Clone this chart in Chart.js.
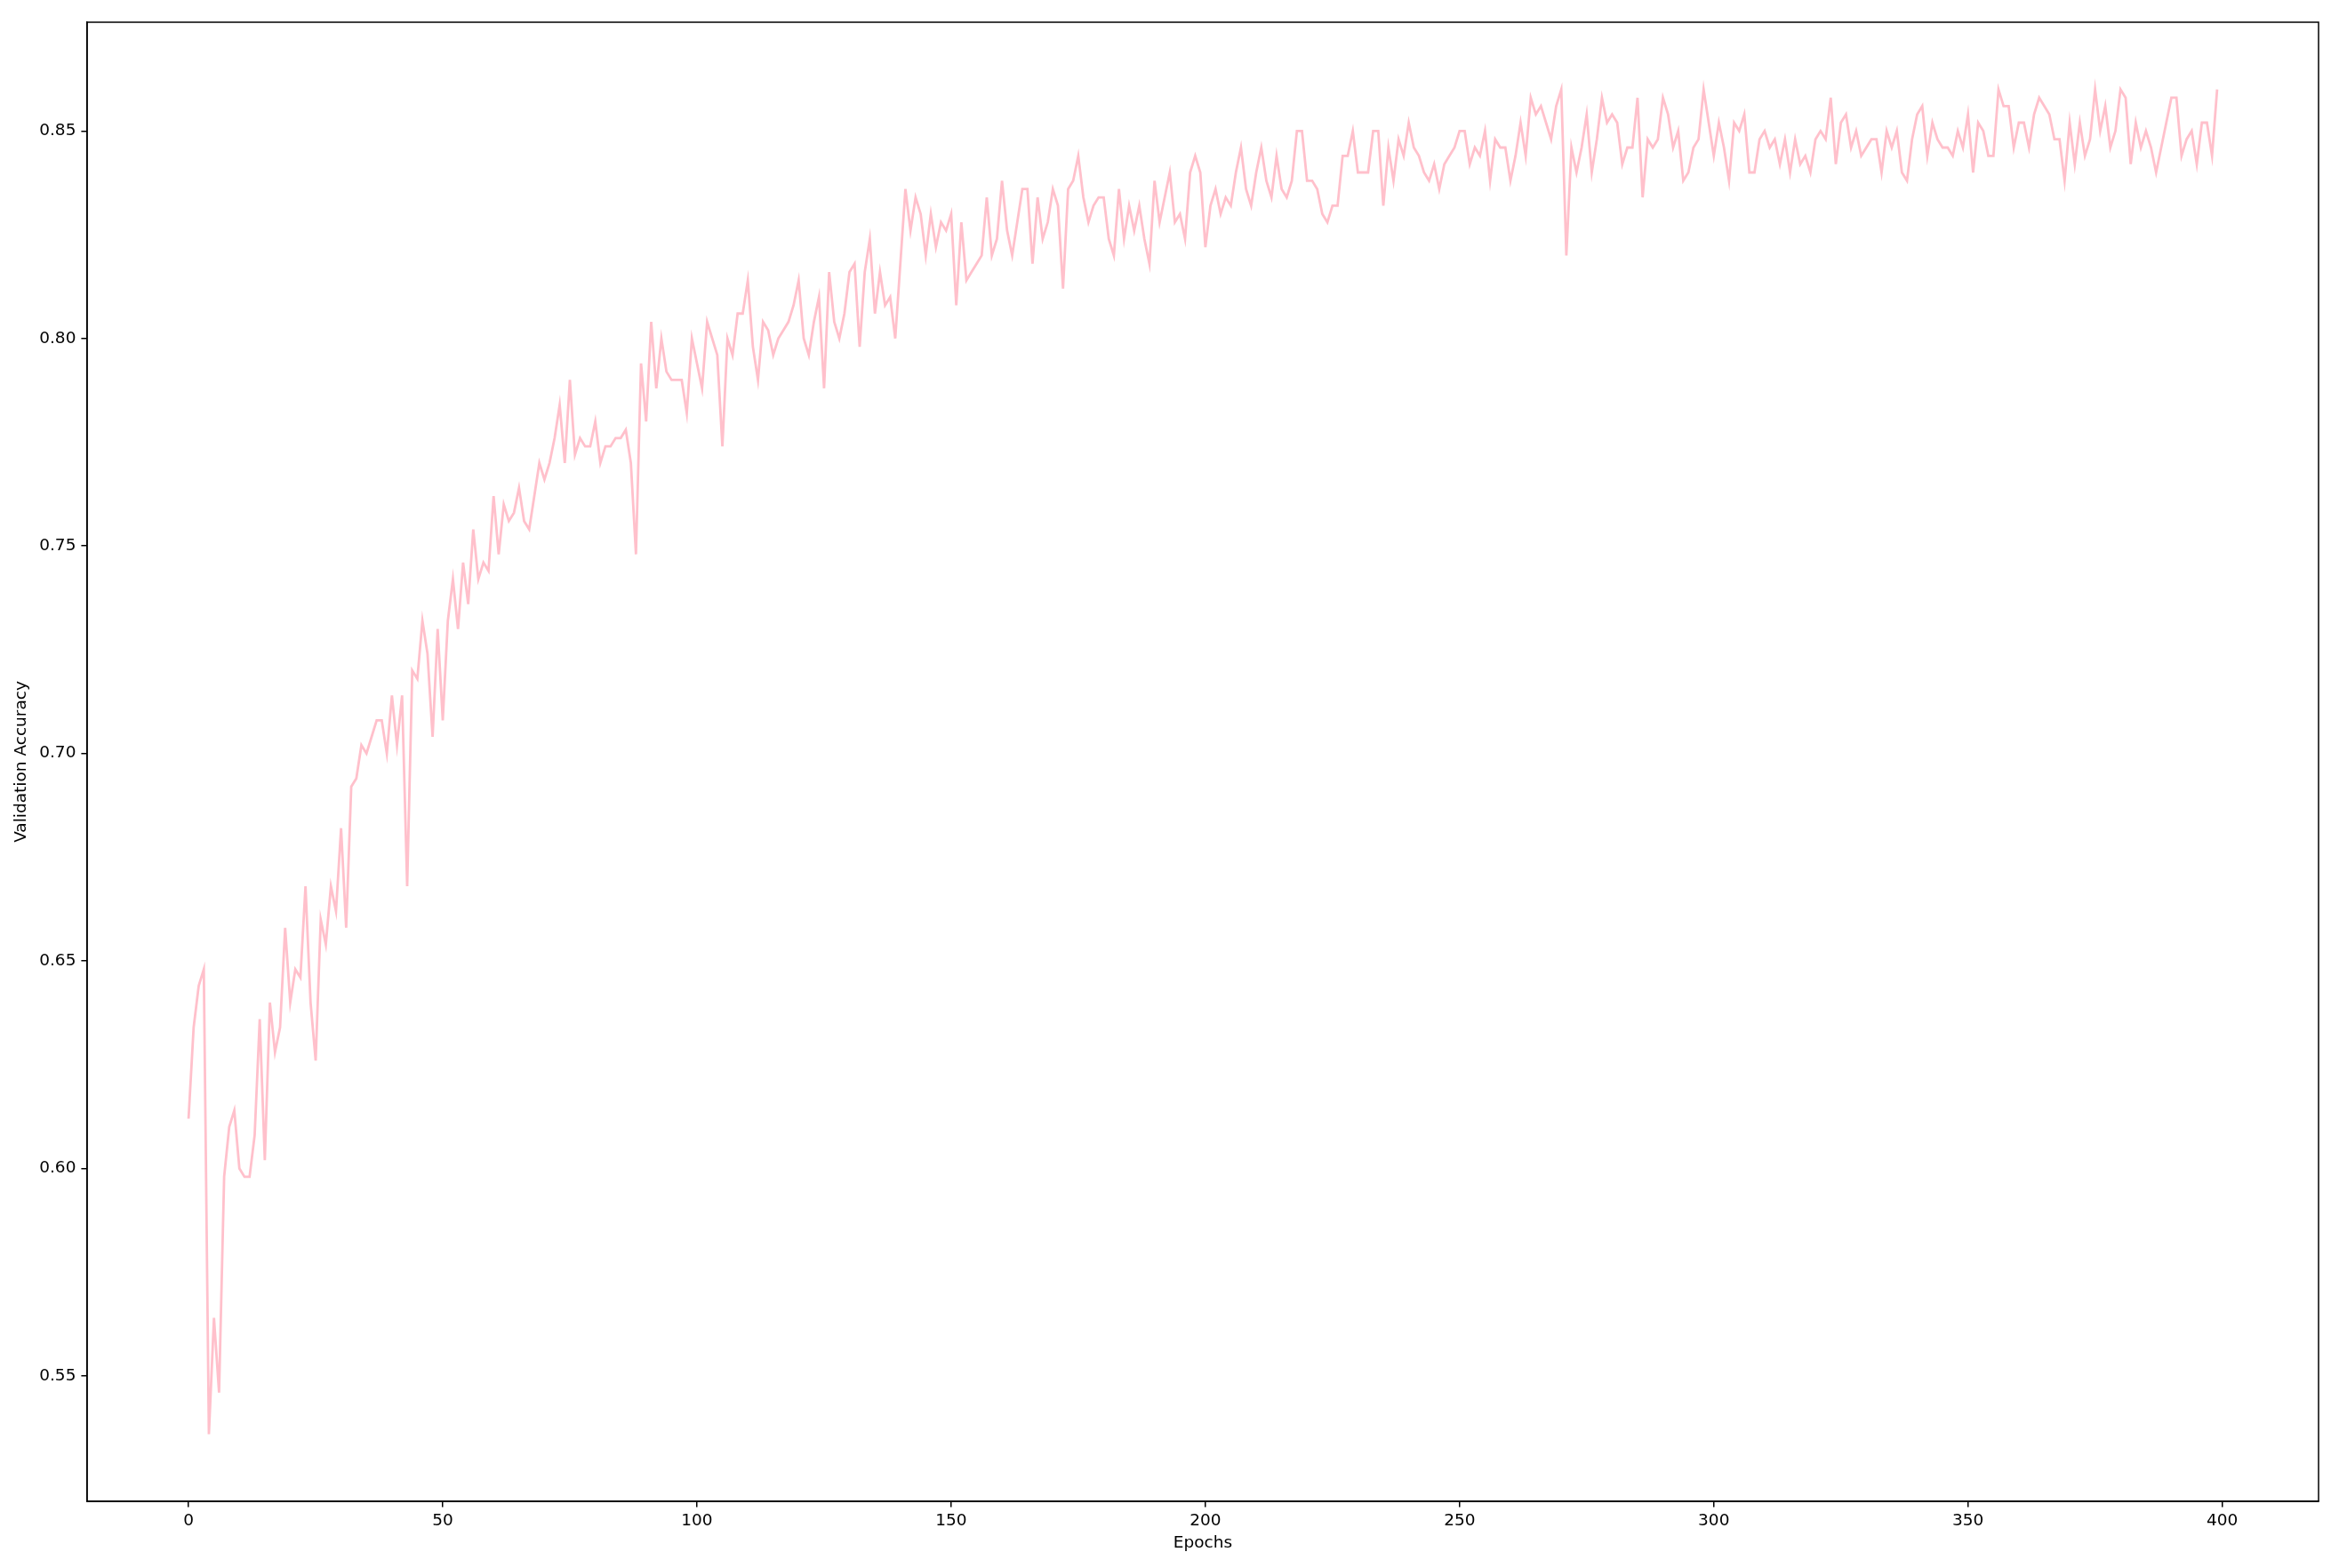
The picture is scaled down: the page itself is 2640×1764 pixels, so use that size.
<!DOCTYPE html>
<html>
<head>
<meta charset="utf-8">
<title>Validation Accuracy</title>
<script src="https://cdn.jsdelivr.net/npm/chart.js@4.4.1/dist/chart.umd.min.js"></script>
<style>
    body { margin: 0; background: #fff; }
    canvas { display: block; }
</style>
</head>
<body>
<canvas id="accChart" width="2640" height="1764"></canvas>
<script>
const valAccuracy = [
    0.612, 0.634, 0.644, 0.648, 0.536, 0.564, 0.546, 0.598, 0.610, 0.614,
    0.600, 0.598, 0.598, 0.608, 0.636, 0.602, 0.640, 0.628, 0.634, 0.658,
    0.640, 0.648, 0.646, 0.668, 0.640, 0.626, 0.660, 0.654, 0.668, 0.662,
    0.682, 0.658, 0.692, 0.694, 0.702, 0.700, 0.704, 0.708, 0.708, 0.700,
    0.714, 0.702, 0.714, 0.668, 0.720, 0.718, 0.732, 0.724, 0.704, 0.730,
    0.708, 0.732, 0.742, 0.730, 0.746, 0.736, 0.754, 0.742, 0.746, 0.744,
    0.762, 0.748, 0.760, 0.756, 0.758, 0.764, 0.756, 0.754, 0.762, 0.770,
    0.766, 0.770, 0.776, 0.784, 0.770, 0.790, 0.772, 0.776, 0.774, 0.774,
    0.780, 0.770, 0.774, 0.774, 0.776, 0.776, 0.778, 0.770, 0.748, 0.794,
    0.780, 0.804, 0.788, 0.800, 0.792, 0.790, 0.790, 0.790, 0.782, 0.800,
    0.794, 0.788, 0.804, 0.800, 0.796, 0.774, 0.800, 0.796, 0.806, 0.806,
    0.814, 0.798, 0.790, 0.804, 0.802, 0.796, 0.800, 0.802, 0.804, 0.808,
    0.814, 0.800, 0.796, 0.804, 0.810, 0.788, 0.816, 0.804, 0.800, 0.806,
    0.816, 0.818, 0.798, 0.816, 0.824, 0.806, 0.816, 0.808, 0.810, 0.800,
    0.818, 0.836, 0.826, 0.834, 0.830, 0.820, 0.830, 0.822, 0.828, 0.826,
    0.830, 0.808, 0.828, 0.814, 0.816, 0.818, 0.820, 0.834, 0.820, 0.824,
    0.838, 0.826, 0.820, 0.828, 0.836, 0.836, 0.818, 0.834, 0.824, 0.828,
    0.836, 0.832, 0.812, 0.836, 0.838, 0.844, 0.834, 0.828, 0.832, 0.834,
    0.834, 0.824, 0.820, 0.836, 0.824, 0.832, 0.826, 0.832, 0.824, 0.818,
    0.838, 0.828, 0.834, 0.840, 0.828, 0.830, 0.824, 0.840, 0.844, 0.840,
    0.822, 0.832, 0.836, 0.830, 0.834, 0.832, 0.840, 0.846, 0.836, 0.832,
    0.840, 0.846, 0.838, 0.834, 0.844, 0.836, 0.834, 0.838, 0.850, 0.850,
    0.838, 0.838, 0.836, 0.830, 0.828, 0.832, 0.832, 0.844, 0.844, 0.850,
    0.840, 0.840, 0.840, 0.850, 0.850, 0.832, 0.846, 0.838, 0.848, 0.844,
    0.852, 0.846, 0.844, 0.840, 0.838, 0.842, 0.836, 0.842, 0.844, 0.846,
    0.850, 0.850, 0.842, 0.846, 0.844, 0.850, 0.838, 0.848, 0.846, 0.846,
    0.838, 0.844, 0.852, 0.844, 0.858, 0.854, 0.856, 0.852, 0.848, 0.856,
    0.860, 0.820, 0.846, 0.840, 0.846, 0.854, 0.840, 0.848, 0.858, 0.852,
    0.854, 0.852, 0.842, 0.846, 0.846, 0.858, 0.834, 0.848, 0.846, 0.848,
    0.858, 0.854, 0.846, 0.850, 0.838, 0.840, 0.846, 0.848, 0.860, 0.852,
    0.844, 0.852, 0.846, 0.838, 0.852, 0.850, 0.854, 0.840, 0.840, 0.848,
    0.850, 0.846, 0.848, 0.842, 0.848, 0.840, 0.848, 0.842, 0.844, 0.840,
    0.848, 0.850, 0.848, 0.858, 0.842, 0.852, 0.854, 0.846, 0.850, 0.844,
    0.846, 0.848, 0.848, 0.840, 0.850, 0.846, 0.850, 0.840, 0.838, 0.848,
    0.854, 0.856, 0.844, 0.852, 0.848, 0.846, 0.846, 0.844, 0.850, 0.846,
    0.854, 0.840, 0.852, 0.850, 0.844, 0.844, 0.860, 0.856, 0.856, 0.846,
    0.852, 0.852, 0.846, 0.854, 0.858, 0.856, 0.854, 0.848, 0.848, 0.838,
    0.852, 0.842, 0.852, 0.844, 0.848, 0.860, 0.850, 0.856, 0.846, 0.850,
    0.860, 0.858, 0.842, 0.852, 0.846, 0.850, 0.846, 0.840, 0.846, 0.852,
    0.858, 0.858, 0.844, 0.848, 0.850, 0.842, 0.852, 0.852, 0.844, 0.860
];

const xTicks = [0, 50, 100, 150, 200, 250, 300, 350, 400];
const yTicks = [0.55, 0.60, 0.65, 0.70, 0.75, 0.80, 0.85];

const xLabel = "Epochs";
const yLabel = "Validation Accuracy";

const fontFamily = "'DejaVu Sans', sans-serif";
const fontSize = 18.5;

// matplotlib draws a box round the axes, chart.js only the two axis lines
const frameBox = {
    id: "frameBox",
    afterDraw(chart) {
        const a = chart.chartArea;
        const ctx = chart.ctx;
        ctx.save();
        ctx.strokeStyle = "#000";
        ctx.lineWidth = 1.5;
        ctx.strokeRect(a.left, a.top, a.right - a.left, a.bottom - a.top);
        ctx.restore();
    }
};

document.addEventListener("DOMContentLoaded", function() {
    const ctx = document.getElementById("accChart").getContext("2d");

    const points = valAccuracy.map((v, i) => ({ x: i, y: v }));
    const yMin = Math.min(...valAccuracy);
    const yMax = Math.max(...valAccuracy);
    const xPad = (valAccuracy.length - 1) * 0.05;
    const yPad = (yMax - yMin) * 0.05;

    new Chart(ctx, {
        type: "line",
        data: {
            datasets: [
                {
                    data: points,
                    borderColor: "pink",
                    borderWidth: 2.8,
                    pointRadius: 0,
                    tension: 0,
                    fill: false,
                },
            ],
        },
        options: {
            responsive: false,
            animation: false,
            layout: {
                padding: { left: 0, right: 32, top: 25, bottom: 0 },
            },
            plugins: {
                legend: { display: false },
                tooltip: { enabled: false },
            },
            scales: {
                x: {
                    type: "linear",
                    min: -xPad,
                    max: valAccuracy.length - 1 + xPad,
                    afterBuildTicks: (s) => { s.ticks = xTicks.map((v) => ({ value: v })); },
                    afterFit: (s) => { s.height = 75; },
                    border: { display: true, color: "#000", width: 1.5 },
                    grid: { drawOnChartArea: false, drawTicks: true, tickLength: 6.6, color: "#000", lineWidth: 1.5 },
                    ticks: {
                        color: "#000",
                        padding: 4,
                        maxRotation: 0,
                        font: { family: fontFamily, size: fontSize },
                        callback: (v) => String(v),
                    },
                    title: {
                        display: true,
                        text: xLabel,
                        color: "#000",
                        font: { family: fontFamily, size: fontSize },
                        padding: { top: 0, bottom: 17 },
                    },
                },
                y: {
                    type: "linear",
                    min: yMin - yPad,
                    max: yMax + yPad,
                    afterBuildTicks: (s) => { s.ticks = yTicks.map((v) => ({ value: v })); },
                    afterFit: (s) => { s.width = 98; },
                    border: { display: true, color: "#000", width: 1.5 },
                    grid: { drawOnChartArea: false, drawTicks: true, tickLength: 6.6, color: "#000", lineWidth: 1.5 },
                    ticks: {
                        color: "#000",
                        padding: 6,
                        font: { family: fontFamily, size: fontSize },
                        callback: (v) => v.toFixed(2),
                    },
                    title: {
                        display: true,
                        text: yLabel,
                        color: "#000",
                        font: { family: fontFamily, size: fontSize },
                        padding: { top: 13, bottom: 0 },
                    },
                },
            },
        },
        plugins: [frameBox],
    });
});
</script>
</body>
</html>
